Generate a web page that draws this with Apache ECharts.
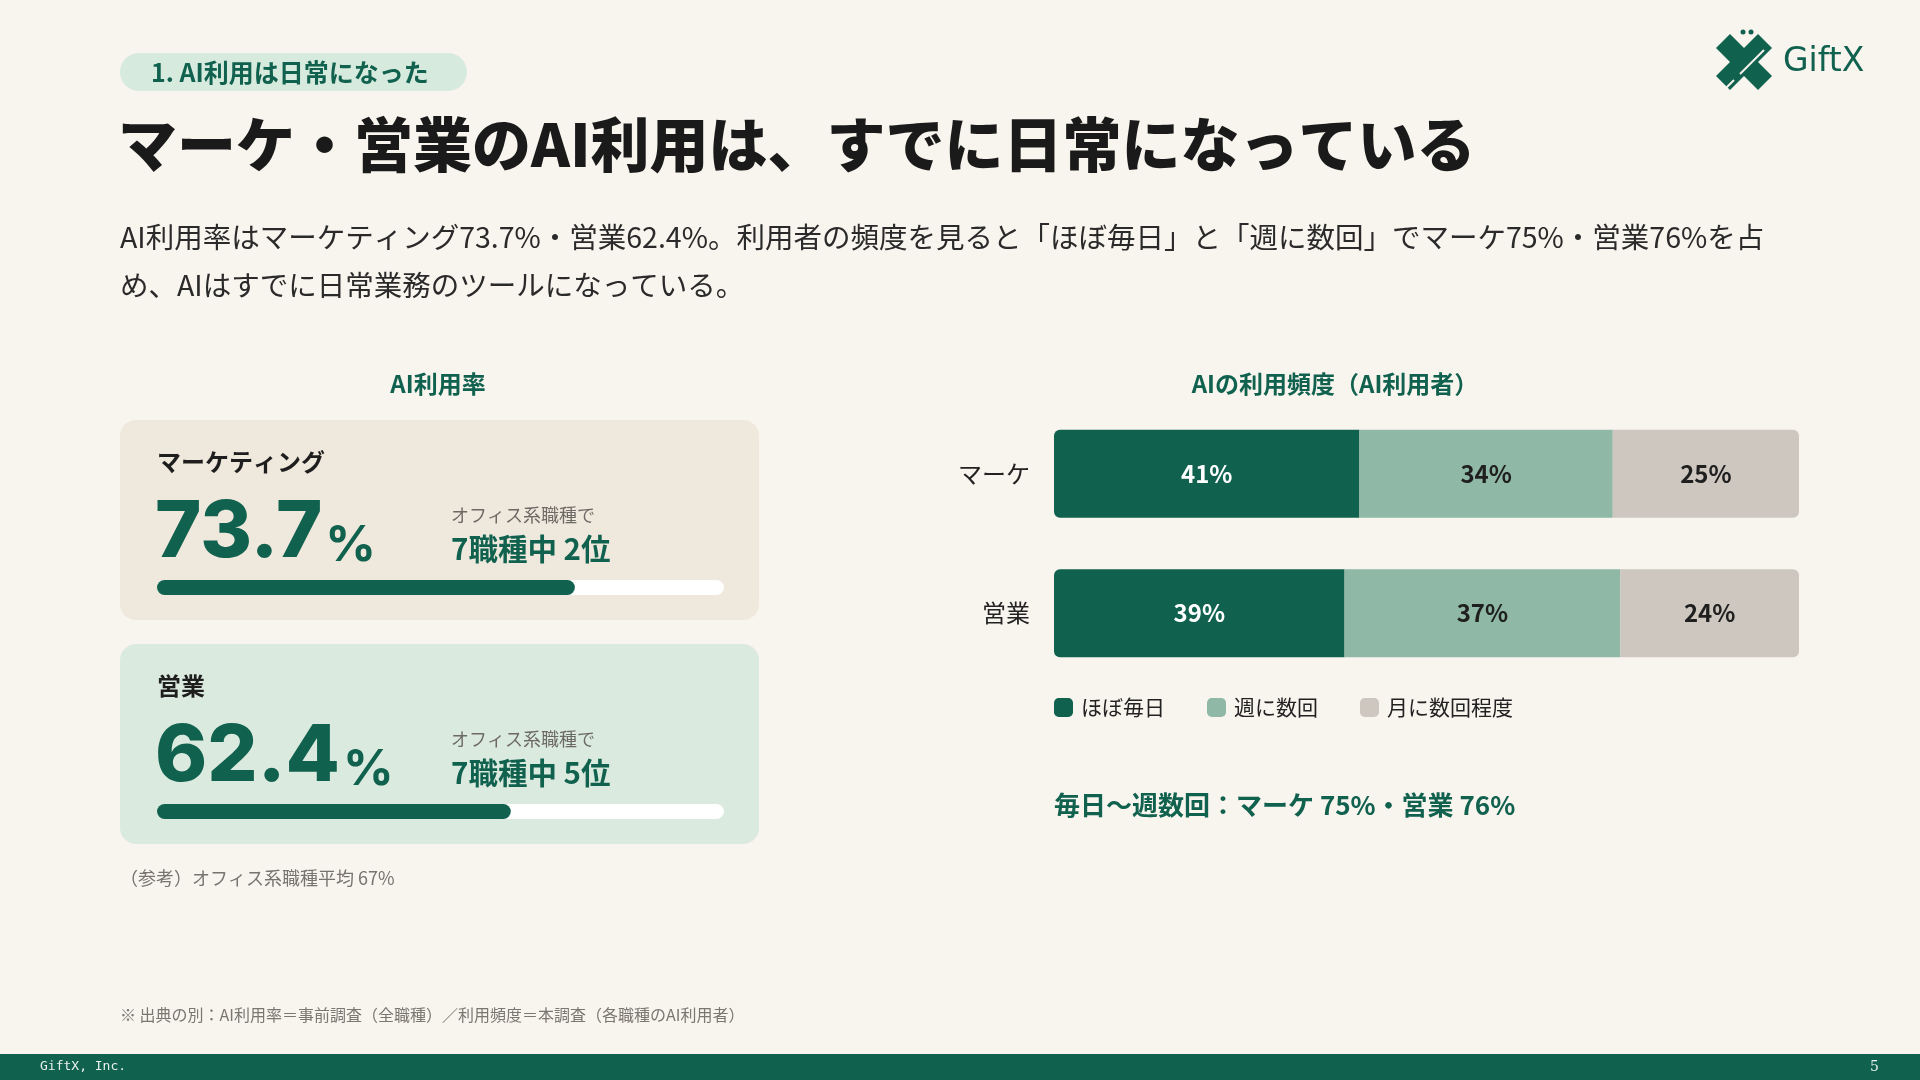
<!DOCTYPE html>
<html><head><meta charset="utf-8">
<script src="https://cdn.jsdelivr.net/npm/echarts@6/dist/echarts.min.js"></script>
<style>html,body{margin:0;padding:0;background:#f8f4ee;}#c{width:1920px;height:1080px;}</style>
</head><body><div id="c"></div>
<script>
// ---- data ----
const rateJobs = ['マーケティング', '営業'];
const rateValues = [73.7, 62.4];
const rankTexts = ['7職種中 2位', '7職種中 5位'];
const freqCategories = ['マーケ', '営業'];
const freqSeriesNames = ['ほぼ毎日', '週に数回', '月に数回程度'];
const freqDaily = [41, 39];
const freqWeekly = [34, 37];
const freqMonthly = [25, 24];

const JP = '"Noto Sans CJK JP", "Noto Sans", sans-serif';
const NUM = 'Inter, "Noto Sans", sans-serif';
const G = '#11614f';
const MID = '#8fb9a6';
const LIGHT = '#cdc7bf';

const chart = echarts.init(document.getElementById('c'));

const cardTops = [420, 644];
const cardFills = ['#efe8dc', '#dbeadf'];
const graphics = [];
// pill
graphics.push({type:'rect', shape:{x:120,y:53,width:347,height:38,r:19}, style:{fill:'#d6eadd'}});
graphics.push({type:'text', x:151, y:72, style:{text:'1. AI利用は日常になった', font:'bold 25px '+JP, fill:G, verticalAlign:'middle', letterSpacing:1.5}});
// title
graphics.push({type:'text', x:118, y:145, style:{text:'マーケ・営業のAI利用は、すでに日常になっている', font:'900 59px '+JP, fill:'#1a1a1a', verticalAlign:'middle'}});
// subtitle
graphics.push({type:'text', left:120, top:213, style:{text:'AI利用率はマーケティング73.7%・営業62.4%。利用者の頻度を見ると「ほぼ毎日」と「週に数回」でマーケ75%・営業76%を占\nめ、AIはすでに日常業務のツールになっている。', font:'28.5px '+JP, fill:'#2a2a2a', lineHeight:48}});
// section titles
graphics.push({type:'text', x:438, y:384, style:{text:'AI利用率', font:'bold 24px '+JP, fill:G, align:'center', verticalAlign:'middle'}});
graphics.push({type:'text', x:1335, y:384, style:{text:'AIの利用頻度（AI利用者）', font:'bold 24px '+JP, fill:G, align:'center', verticalAlign:'middle'}});
// cards
rateJobs.forEach((job, i) => {
  const t = cardTops[i];
  graphics.push({type:'rect', z:-1, shape:{x:120,y:t,width:639,height:200,r:16}, style:{fill:cardFills[i]}});
  graphics.push({type:'text', left:157, top:t+30, style:{text:job, font:'bold 24px '+JP, fill:'#1e1e1e'}});
  graphics.push({type:'text', x:155, y:t+153, style:{
    text:'{n|' + rateValues[i].toFixed(1) + '}{p|%}', verticalAlign:'bottom',
    rich:{n:{font:'800 79px '+NUM, fill:G, verticalAlign:'bottom'}, p:{font:'700 50px '+NUM, fill:G, verticalAlign:'bottom', padding:[0,0,2,3]}}
  }});
  graphics.push({type:'text', left:451, top:t+86, style:{text:'オフィス系職種で', font:'18px '+JP, fill:'#6d6a66'}});
  graphics.push({type:'text', left:451, top:t+114, style:{text:rankTexts[i], font:'bold 29.5px '+JP, fill:G}});
});
graphics.push({type:'text', left:120, top:869, style:{text:'（参考）オフィス系職種平均 67%', font:'18px '+JP, fill:'#77736e'}});
// summary
graphics.push({type:'text', left:1054, top:792, style:{text:'毎日〜週数回：マーケ ' + (freqDaily[0]+freqWeekly[0]) + '%・営業 ' + (freqDaily[1]+freqWeekly[1]) + '%', font:'bold 26px '+JP, fill:G}});
// footnote
graphics.push({type:'text', left:120, top:1007, style:{text:'※ 出典の別：AI利用率＝事前調査（全職種）／利用頻度＝本調査（各職種のAI利用者）', font:'16px '+JP, fill:'#7a7670'}});
// footer bar
graphics.push({type:'rect', shape:{x:0,y:1054,width:1920,height:26}, style:{fill:G}});
graphics.push({type:'text', left:40, top:1060, style:{text:'GiftX, Inc.', font:'13px "DejaVu Sans Mono", monospace', fill:'#e8f0ec'}});
graphics.push({type:'text', left:1870, top:1060, style:{text:'5', font:'14px "DejaVu Serif", serif', fill:'#e8f0ec'}});
// logo
graphics.push({type:'group', x:1716, y:34, children:[
  {type:'polygon', shape:{points:[[0,14],[14,0],[56,42],[42,56]]}, style:{fill:G}},
  {type:'polygon', shape:{points:[[0,42],[42,0],[56,14],[14,56]]}, style:{fill:G}},
  {type:'line', shape:{x1:24,y1:40,x2:48,y2:16}, style:{stroke:'#f8f4ee', lineWidth:2}},
  {type:'line', shape:{x1:18,y1:46,x2:10,y2:54}, style:{stroke:'#f8f4ee', lineWidth:2}},
  {type:'circle', shape:{cx:27,cy:-2,r:2.5}, style:{fill:G}},
  {type:'circle', shape:{cx:35,cy:-2,r:2.5}, style:{fill:G}}
]});
graphics.push({type:'text', x:1783, y:62, style:{text:'GiftX', font:'33px "DejaVu Sans", sans-serif', fill:G, letterSpacing:10, verticalAlign:'middle'}});

const progGrids = cardTops.map(t => ({left:157, width:567, top:t+160, height:15}));

const option = {
  backgroundColor:'#f8f4ee',
  animation:false,
  graphic: graphics,
  grid: [...progGrids, {left:1054, width:745, top:404, height:279}],
  xAxis: [
    {gridIndex:0, type:'value', min:0, max:100, show:false},
    {gridIndex:1, type:'value', min:0, max:100, show:false},
    {gridIndex:2, type:'value', min:0, max:100, show:false}
  ],
  yAxis: [
    {gridIndex:0, type:'category', data:[rateJobs[0]], show:false},
    {gridIndex:1, type:'category', data:[rateJobs[1]], show:false},
    {gridIndex:2, type:'category', data:freqCategories, inverse:true,
     axisLine:{show:false}, axisTick:{show:false}, splitLine:{show:false},
     axisLabel:{fontFamily:JP, fontSize:24, color:'#222', margin:24}}
  ],
  legend: {
    left:1054, top:697, padding:0, itemWidth:19, itemHeight:19, itemGap:42, icon:'roundRect',
    data: freqSeriesNames,
    textStyle:{fontFamily:JP, fontSize:21, color:'#222', padding:[0,0,0,3]}
  },
  series: [
    {type:'bar', xAxisIndex:0, yAxisIndex:0, data:[rateValues[0]], barWidth:15,
     showBackground:true, backgroundStyle:{color:'#ffffff', borderRadius:8},
     itemStyle:{color:G, borderRadius:8}, silent:true},
    {type:'bar', xAxisIndex:1, yAxisIndex:1, data:[rateValues[1]], barWidth:15,
     showBackground:true, backgroundStyle:{color:'#ffffff', borderRadius:8},
     itemStyle:{color:G, borderRadius:8}, silent:true},
    {name:freqSeriesNames[0], type:'bar', stack:'f', xAxisIndex:2, yAxisIndex:2, data:freqDaily, barWidth:88,
     itemStyle:{color:G, borderRadius:[6,0,0,6]},
     label:{show:true, position:'inside', formatter:'{c}%', fontFamily:JP, fontWeight:'bold', fontSize:24, color:'#ffffff'}},
    {name:freqSeriesNames[1], type:'bar', stack:'f', xAxisIndex:2, yAxisIndex:2, data:freqWeekly, barWidth:88,
     itemStyle:{color:MID},
     label:{show:true, position:'inside', formatter:'{c}%', fontFamily:JP, fontWeight:'bold', fontSize:24, color:'#1f1f1f'}},
    {name:freqSeriesNames[2], type:'bar', stack:'f', xAxisIndex:2, yAxisIndex:2, data:freqMonthly, barWidth:88,
     itemStyle:{color:LIGHT, borderRadius:[0,6,6,0]},
     label:{show:true, position:'inside', formatter:'{c}%', fontFamily:JP, fontWeight:'bold', fontSize:24, color:'#1f1f1f'}}
  ]
};
chart.setOption(option);
</script></body></html>
